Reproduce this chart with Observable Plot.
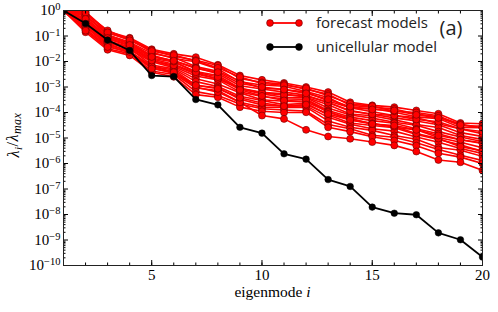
<!DOCTYPE html>
<html><head><meta charset="utf-8">
<script src="https://cdn.jsdelivr.net/npm/d3@7"></script>
<script src="https://cdn.jsdelivr.net/npm/@observablehq/plot@0.6"></script>
<style>body{margin:0;background:#fff}</style>
</head><body><div id="chart"></div>
<script>
// eigenmode index
const eigenmodes = [1,2,3,4,5,6,7,8,9,10,11,12,13,14,15,16,17,18,19,20];
// log10(lambda_i / lambda_max), unicellular model
const unicellularLog10 = [0,-0.51,-1.16,-1.57,-2.55,-2.59,-3.49,-3.70,-4.58,-4.81,-5.62,-5.83,-6.63,-6.90,-7.71,-7.95,-8.01,-8.72,-8.99,-9.67];
// log10(lambda_i / lambda_max), forecast models (one row per model)
const forecastLog10 = [
  [0,-0.05,-0.82,-1.07,-1.52,-1.70,-1.83,-2.13,-2.55,-2.72,-2.84,-3.00,-3.20,-3.60,-3.72,-3.79,-3.92,-4.05,-4.41,-4.44],
  [0,-0.13,-0.78,-1.14,-1.55,-1.79,-1.95,-2.16,-2.67,-2.82,-2.88,-3.10,-3.28,-3.72,-3.79,-3.86,-4.06,-4.17,-4.45,-4.60],
  [0,-0.21,-0.89,-1.10,-1.64,-1.88,-2.01,-2.29,-2.80,-2.92,-2.97,-3.18,-3.41,-3.83,-3.84,-3.99,-4.17,-4.24,-4.59,-4.60],
  [0,-0.17,-0.97,-1.24,-1.68,-1.84,-2.20,-2.38,-2.77,-3.05,-3.10,-3.20,-3.55,-3.81,-3.97,-4.12,-4.20,-4.44,-4.65,-4.83],
  [0,-0.29,-1.01,-1.31,-1.78,-1.97,-2.24,-2.48,-2.95,-3.08,-3.20,-3.32,-3.61,-3.92,-4.07,-4.21,-4.33,-4.48,-4.79,-4.94],
  [0,-0.37,-1.05,-1.28,-1.87,-2.02,-2.39,-2.55,-3.05,-3.21,-3.27,-3.40,-3.70,-4.06,-4.13,-4.29,-4.47,-4.59,-4.90,-5.06],
  [0,-0.41,-1.12,-1.38,-1.90,-2.11,-2.45,-2.68,-3.07,-3.27,-3.40,-3.42,-3.82,-4.10,-4.22,-4.38,-4.50,-4.75,-4.96,-5.14],
  [0,-0.45,-1.20,-1.42,-1.96,-2.20,-2.57,-2.72,-3.19,-3.37,-3.46,-3.48,-3.92,-4.18,-4.32,-4.42,-4.64,-4.83,-5.07,-5.19],
  [0,-0.53,-1.24,-1.52,-2.01,-2.24,-2.68,-2.88,-3.23,-3.50,-3.56,-3.59,-3.96,-4.29,-4.42,-4.58,-4.68,-4.98,-5.17,-5.38],
  [0,-0.61,-1.27,-1.48,-2.14,-2.29,-2.79,-2.98,-3.36,-3.53,-3.69,-3.64,-4.10,-4.41,-4.51,-4.60,-4.86,-5.06,-5.27,-5.53],
  [0,-0.65,-1.35,-1.59,-2.19,-2.33,-2.93,-3.03,-3.48,-3.70,-3.75,-3.74,-4.19,-4.46,-4.64,-4.73,-4.96,-5.17,-5.41,-5.61],
  [0,-0.73,-1.39,-1.66,-2.24,-2.47,-3.04,-3.14,-3.60,-3.79,-3.80,-3.79,-4.33,-4.58,-4.70,-4.90,-5.05,-5.37,-5.48,-5.72],
  [0,-0.77,-1.50,-1.69,-2.37,-2.51,-3.18,-3.33,-3.67,-3.85,-3.90,-3.94,-4.47,-4.64,-4.89,-4.97,-5.19,-5.45,-5.68,-5.88],
  [0,-0.85,-1.54,-1.76,-2.42,-2.60,-3.30,-3.40,-3.79,-3.95,-4.00,-3.99,-4.58,-4.75,-4.95,-5.10,-5.30,-5.60,-5.75,-6.00],
  [0,-0.60,-1.30,-1.60,-2.20,-2.40,-3.00,-3.20,-3.60,-4.12,-4.25,-4.68,-4.94,-5.03,-5.16,-5.29,-5.53,-5.86,-5.95,-6.27],
  [0,-0.53,-1.20,-1.45,-1.96,-2.15,-2.49,-2.68,-3.05,-3.24,-3.31,-3.35,-3.61,-3.95,-4.07,-4.12,-4.27,-4.36,-4.65,-4.75],
  [0,-0.21,-0.95,-1.27,-1.76,-2.00,-2.42,-2.61,-3.11,-3.35,-3.53,-3.50,-3.99,-4.23,-4.45,-4.55,-4.82,-5.02,-5.34,-5.50],
  [0,-0.09,-0.86,-1.17,-1.59,-1.75,-1.98,-2.25,-2.61,-2.86,-2.93,-3.05,-3.34,-3.66,-3.75,-3.95,-4.00,-4.13,-4.52,-4.53],
  [0,-0.33,-1.08,-1.35,-1.82,-1.97,-2.27,-2.42,-2.86,-3.00,-3.10,-3.25,-3.48,-3.77,-3.88,-3.92,-4.09,-4.21,-4.49,-4.60],
  [0,-0.79,-1.43,-1.62,-2.28,-2.42,-2.93,-3.07,-3.42,-3.63,-3.75,-3.69,-4.06,-4.29,-4.45,-4.51,-4.68,-4.90,-5.07,-5.22]
];
const yTickExponents = [0,-1,-2,-3,-4,-5,-6,-7,-8,-9,-10];
const xMajorTicks = [5,10,15,20];
const legendLabels = ["forecast models","unicellular model"];
const panelLabel = "(a)";
const xLabel = "eigenmode ";

const forecastData = forecastLog10.flatMap((row, m) => row.map((e, k) => ({model: m, i: eigenmodes[k], value: Math.pow(10, e)})));
const uniData = unicellularLog10.map((e, k) => ({i: eigenmodes[k], value: Math.pow(10, e)}));
const yMajor = yTickExponents.map(e => Math.pow(10, e));
const yMinor = [];
for (const e of yTickExponents.slice(1)) for (let m = 2; m <= 9; m++) yMinor.push(m * Math.pow(10, e));

const RED = "#ff0000";
const blank = () => "";
const W = 498, H = 312, ML = 63, MR = 16, MT = 10, MB = 47;

const plot = Plot.plot({
  width: W, height: H,
  marginLeft: ML, marginRight: MR, marginTop: MT, marginBottom: MB,
  style: {fontFamily: "'Liberation Serif', serif", fontSize: "15px", color: "#000", background: "#fff"},
  x: {domain: [1, 20]},
  y: {type: "log", domain: [1e-10, 1]},
  marks: [
    Plot.line(forecastData, {x: "i", y: "value", z: "model", stroke: RED, strokeWidth: 1.6, clip: true}),
    Plot.dot(forecastData, {x: "i", y: "value", r: 3.5, fill: RED, stroke: "#6a0000", strokeWidth: 0.6, clip: true}),
    Plot.line(uniData, {x: "i", y: "value", stroke: "#000", strokeWidth: 1.8, clip: true}),
    Plot.dot(uniData, {x: "i", y: "value", r: 3.3, fill: "#000", stroke: "#000", strokeWidth: 0.5, clip: true}),
    Plot.axisX({anchor: "bottom", ticks: xMajorTicks, tickSize: -5, tickPadding: 9, tickFormat: d => String(d), label: null}),
    Plot.axisX({anchor: "bottom", ticks: eigenmodes, tickSize: -2.5, tickFormat: blank, label: null}),
    Plot.axisX({anchor: "top", ticks: xMajorTicks, tickSize: -5, tickFormat: blank, label: null}),
    Plot.axisX({anchor: "top", ticks: eigenmodes, tickSize: -2.5, tickFormat: blank, label: null}),
    Plot.axisY({anchor: "left", ticks: yMajor, tickSize: -5, tickPadding: 8, tickFormat: d => String(Math.round(Math.log10(d))), label: null}),
    Plot.axisY({anchor: "left", ticks: yMinor, tickSize: -2.5, tickFormat: blank, label: null}),
    Plot.axisY({anchor: "right", ticks: yMajor, tickSize: -5, tickFormat: blank, label: null}),
    Plot.axisY({anchor: "right", ticks: yMinor, tickSize: -2.5, tickFormat: blank, label: null}),
    Plot.frame({stroke: "#222", strokeWidth: 1})
  ]
});

const svg = d3.select(plot);
// superscript tick labels 10^e
svg.selectAll('g[aria-label="y-axis tick label"] text').each(function() {
  const t = d3.select(this);
  const s = t.text();
  if (s === "") return;
  t.text(null);
  t.append("tspan").text("10");
  t.append("tspan").attr("dy", "-0.5em").attr("font-size", "10.5px").text(s.replace("-", "\u2212"));
});

const g = svg.append("g").attr("font-family", "'Liberation Serif', serif").attr("fill", "#000");
// x label
const xl = g.append("text").attr("x", (ML + W - MR) / 2).attr("y", 297).attr("text-anchor", "middle").attr("font-size", "15.5px");
xl.append("tspan").text(xLabel);
xl.append("tspan").attr("font-style", "italic").text("i");
// y label
const yl = g.append("text").attr("transform", "translate(19,135) rotate(-90)").attr("text-anchor", "middle").attr("font-size", "16px").attr("font-style", "italic").attr("letter-spacing", "0.5px");
yl.append("tspan").text("λ");
yl.append("tspan").attr("dy", "0.3em").attr("font-size", "11px").text("i");
yl.append("tspan").attr("dy", "-0.3em").attr("font-style", "normal").text("/");
yl.append("tspan").text("λ");
yl.append("tspan").attr("dy", "0.3em").attr("font-size", "12px").text("max");

// legend
const lg = svg.append("g").attr("font-family", "'Open Sans', sans-serif").attr("font-size", "15px").attr("fill", "#222").attr("text-anchor", "start");
const rows = [{label: legendLabels[0], color: RED, stroke: "#6a0000", y: 23}, {label: legendLabels[1], color: "#000", stroke: "#000", y: 47}];
for (const r of rows) {
  lg.append("line").attr("x1", 270).attr("x2", 299).attr("y1", r.y).attr("y2", r.y).attr("stroke", r.color).attr("stroke-width", 1.8);
  for (const cx of [270, 299]) lg.append("circle").attr("cx", cx).attr("cy", r.y).attr("r", 3.4).attr("fill", r.color).attr("stroke", r.stroke).attr("stroke-width", 0.6);
  lg.append("text").attr("x", 316).attr("y", r.y + 5).attr("text-anchor", "start").text(r.label);
}
lg.append("text").attr("x", 451).attr("y", 35).attr("text-anchor", "middle").attr("font-size", "20px").text(panelLabel);

document.getElementById("chart").appendChild(plot);
</script>
</body></html>
